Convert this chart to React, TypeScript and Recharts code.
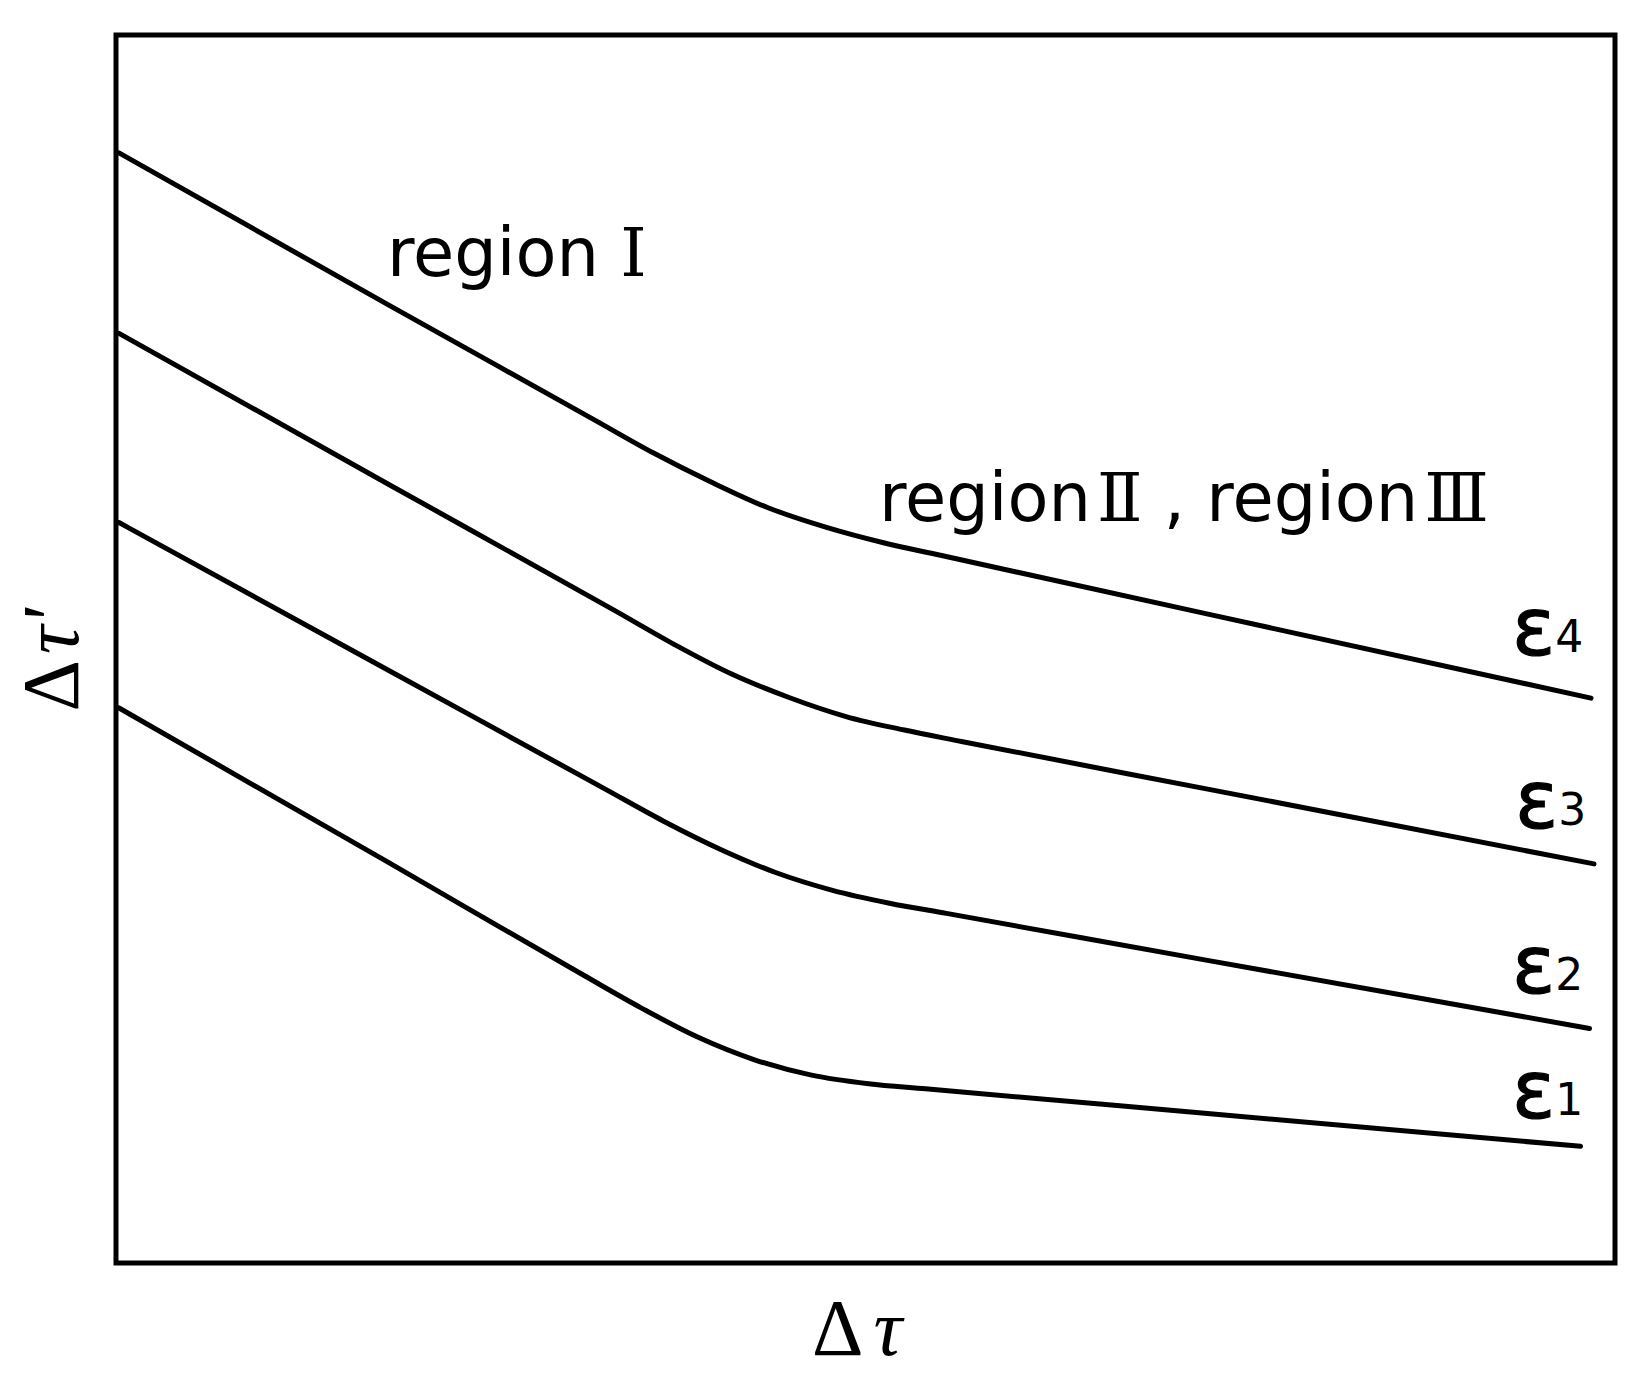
import { LineChart, Line, XAxis, YAxis, ReferenceArea } from "recharts";

// Δτ on x, Δτ' on y; both axes are unitless (0..100 of the frame)
const eps4 = [
  { x: 0.2, y: 90.4 },
  { x: 18.2, y: 78.0 },
  { x: 32.0, y: 68.6 },
  { x: 35.8, y: 66.0 },
  { x: 39.7, y: 63.6 },
  { x: 43.5, y: 61.5 },
  { x: 47.4, y: 59.9 },
  { x: 51.2, y: 58.65 },
  { x: 55.0, y: 57.63 },
  { x: 73.0, y: 52.8 },
  { x: 98.4, y: 46.0 },
];

const eps3 = [
  { x: 0.2, y: 75.7 },
  { x: 18.2, y: 63.4 },
  { x: 33.4, y: 53.04 },
  { x: 37.2, y: 50.4 },
  { x: 41.0, y: 48.0 },
  { x: 44.9, y: 46.05 },
  { x: 48.7, y: 44.5 },
  { x: 52.6, y: 43.4 },
  { x: 56.4, y: 42.47 },
  { x: 73.0, y: 38.55 },
  { x: 98.6, y: 32.5 },
];

const eps2 = [
  { x: 0.2, y: 60.3 },
  { x: 18.2, y: 48.25 },
  { x: 32.7, y: 38.55 },
  { x: 36.5, y: 36.0 },
  { x: 40.3, y: 33.7 },
  { x: 44.0, y: 31.8 },
  { x: 47.8, y: 30.35 },
  { x: 51.6, y: 29.3 },
  { x: 55.4, y: 28.47 },
  { x: 73.0, y: 24.6 },
  { x: 98.3, y: 19.1 },
];

const eps1 = [
  { x: 0.2, y: 45.2 },
  { x: 18.2, y: 32.6 },
  { x: 31.2, y: 23.43 },
  { x: 35.0, y: 20.8 },
  { x: 38.8, y: 18.4 },
  { x: 42.6, y: 16.55 },
  { x: 46.4, y: 15.3 },
  { x: 50.2, y: 14.6 },
  { x: 54.0, y: 14.19 },
  { x: 73.0, y: 12.15 },
  { x: 97.7, y: 9.5 },
];

const series = [
  { name: "ε4", data: eps4 },
  { name: "ε3", data: eps3 },
  { name: "ε2", data: eps2 },
  { name: "ε1", data: eps1 },
];

// curve labels at the right end: [sub digit, left x, baseline y]
const curveLabels: [string, number, number][] = [
  ["4", 1512, 655],
  ["3", 1515, 828],
  ["2", 1512, 993],
  ["1", 1512, 1118],
];

const sans = "'DejaVu Sans', Verdana, sans-serif";
const roman = "'DejaVu Serif', serif";
const serif = "'Liberation Serif', 'Times New Roman', serif";

export default function App() {
  return (
    <div style={{ position: "absolute", left: 0, top: 0, width: 1650, height: 1378, background: "#fff" }}>
      <LineChart width={1650} height={1378} margin={{ top: 35, right: 35, bottom: 115, left: 116 }}>
        <XAxis type="number" dataKey="x" domain={[0, 100]} hide allowDuplicatedCategory={false} />
        <YAxis type="number" dataKey="y" domain={[0, 100]} hide />
        <ReferenceArea x1={0} x2={100} y1={0} y2={100} fill="none" fillOpacity={0} stroke="#000" strokeWidth={5} />
        {series.map((s) => (
          <Line
            key={s.name}
            name={s.name}
            data={s.data}
            dataKey="y"
            type="monotone"
            stroke="#000"
            strokeWidth={5}
            strokeLinecap="round"
            dot={false}
            activeDot={false}
            isAnimationActive={false}
          />
        ))}
      </LineChart>
      <svg
        width={1650}
        height={1378}
        style={{ position: "absolute", left: 0, top: 0, pointerEvents: "none" }}
      >
        <text x={387} y={276} fontFamily={sans} fontSize={67} fill="#000">
          region <tspan fontFamily={roman}>Ⅰ</tspan>
        </text>
        <text x={879} y={521} fontFamily={sans} fontSize={67} fill="#000">
          region<tspan fontFamily={roman} dx={6}>Ⅱ</tspan> , region<tspan fontFamily={roman} dx={6}>Ⅲ</tspan>
        </text>
        {curveLabels.map(([d, x, y]) => (
          <text key={d} x={x} y={y} fontFamily={sans} fill="#000">
            <tspan fontSize={80} stroke="#000" strokeWidth={1.2}>ε</tspan>
            <tspan fontSize={44} dy={-3}>{d}</tspan>
          </text>
        ))}
        <text x={812} y={1355} fontFamily={serif} fontSize={80} fill="#000">
          Δ<tspan fontStyle="italic" dx={10}>τ</tspan>
        </text>
        <text
          x={0}
          y={0}
          transform="translate(78,660) rotate(-90)"
          textAnchor="middle"
          fontFamily={serif}
          fontSize={80}
          fill="#000"
        >
          Δ<tspan fontStyle="italic" dx={6}>τ'</tspan>
        </text>
      </svg>
    </div>
  );
}
